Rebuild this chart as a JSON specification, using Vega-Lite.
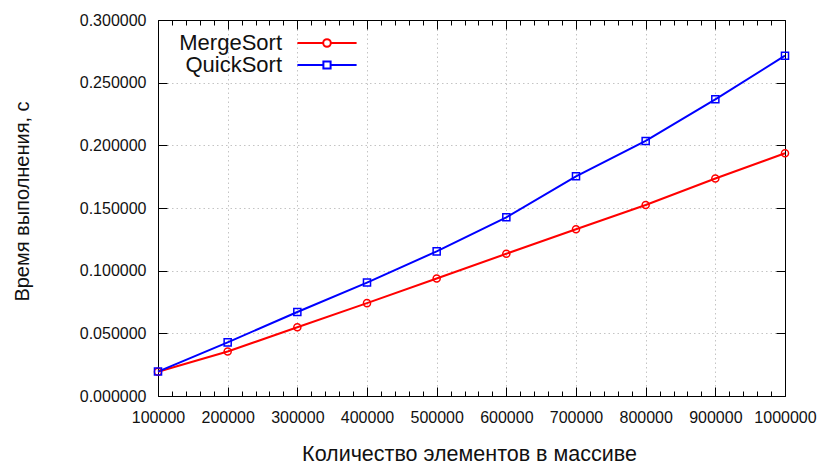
{
  "$schema": "https://vega.github.io/schema/vega-lite/v6.json",
  "width": 627,
  "height": 376,
  "autosize": {"type": "none"},
  "padding": {"left": 158, "top": 20, "right": 35, "bottom": 68},
  "config": {
    "font": "Liberation Sans",
    "view": {"stroke": null},
    "axis": {"domainColor": "#000000", "tickColor": "#000000", "labelColor": "#111111", "titleColor": "#111111", "labelFont": "Liberation Sans", "titleFont": "Liberation Sans", "titleFontWeight": "normal"}
  },
  "datasets": {
    "times": [
      {"n": 100000, "algo": "MergeSort", "t": 0.0193},
      {"n": 200000, "algo": "MergeSort", "t": 0.0355},
      {"n": 300000, "algo": "MergeSort", "t": 0.0548},
      {"n": 400000, "algo": "MergeSort", "t": 0.0741},
      {"n": 500000, "algo": "MergeSort", "t": 0.0938},
      {"n": 600000, "algo": "MergeSort", "t": 0.1135},
      {"n": 700000, "algo": "MergeSort", "t": 0.1330},
      {"n": 800000, "algo": "MergeSort", "t": 0.1524},
      {"n": 900000, "algo": "MergeSort", "t": 0.1735},
      {"n": 1000000, "algo": "MergeSort", "t": 0.1937},
      {"n": 100000, "algo": "QuickSort", "t": 0.0195},
      {"n": 200000, "algo": "QuickSort", "t": 0.0428},
      {"n": 300000, "algo": "QuickSort", "t": 0.0670},
      {"n": 400000, "algo": "QuickSort", "t": 0.0905},
      {"n": 500000, "algo": "QuickSort", "t": 0.1154},
      {"n": 600000, "algo": "QuickSort", "t": 0.1426},
      {"n": 700000, "algo": "QuickSort", "t": 0.1753},
      {"n": 800000, "algo": "QuickSort", "t": 0.2035},
      {"n": 900000, "algo": "QuickSort", "t": 0.2367},
      {"n": 1000000, "algo": "QuickSort", "t": 0.2715}
    ]
  },
  "data": {"name": "times"},
  "layer": [
    {
      "mark": {"type": "line", "strokeWidth": 2},
      "encoding": {
        "x": {"field": "n", "type": "quantitative", "scale": {"domain": [100000, 1000000], "nice": false, "zero": false},
          "axis": {"orient": "bottom", "values": [100000, 200000, 300000, 400000, 500000, 600000, 700000, 800000, 900000, 1000000], "format": "d", "ticks": false, "labelFontSize": 16, "labelPadding": 13, "labelFlush": false, "labelOverlap": false, "grid": true, "gridColor": "#c4c4c4", "gridDash": [1.5, 3], "gridWidth": 1, "domain": true, "title": "Количество элементов в массиве", "titleFontSize": 21.5, "titleX": 311, "titleY": 64, "titleBaseline": "alphabetic", "titleAlign": "center"}},
        "y": {"field": "t", "type": "quantitative", "scale": {"domain": [0, 0.3], "nice": false},
          "axis": {"orient": "left", "values": [0, 0.05, 0.1, 0.15, 0.2, 0.25, 0.3], "format": ".6f", "ticks": false, "labelFontSize": 16, "labelPadding": 12, "labelFlush": false, "labelOverlap": false, "grid": true, "gridColor": "#c4c4c4", "gridDash": [1.5, 3], "gridWidth": 1, "domain": true, "title": "Время выполнения, с", "titleFontSize": 20, "titleAngle": -90, "titleX": -136, "titleY": 181, "titleBaseline": "middle", "titleAlign": "center"}},
        "color": {"field": "algo", "type": "nominal", "scale": {"domain": ["MergeSort", "QuickSort"], "range": ["#ff0000", "#0000ff"]},
          "legend": {"orient": "none", "legendX": 158, "legendY": 12, "title": null, "padding": 0, "labelFontSize": 22, "labelFont": "Liberation Sans", "labelColor": "#111111", "labelAlign": "right", "labelOffset": -56, "symbolSize": 64, "rowPadding": 0, "symbolStrokeWidth": 2,
            "encode": {"symbols": {"update": {"fill": {"value": "transparent"}, "shape": {"signal": "datum.value === 'MergeSort' ? 'M-7.4,0L-0.95,0M0.95,0L7.4,0M0.95,0A0.95,0.95,0,1,1,-0.95,0A0.95,0.95,0,1,1,0.95,0Z' : 'M-7.4,0L-0.9,0M0.9,0L7.4,0M-0.9,-0.9L0.9,-0.9L0.9,0.9L-0.9,0.9Z'"}}}}}}
      }
    },
    {
      "transform": [{"filter": "datum.algo === 'MergeSort'"}],
      "mark": {"type": "point", "shape": "circle", "filled": false, "size": 50, "strokeWidth": 1.5, "opacity": 1},
      "encoding": {
        "x": {"field": "n", "type": "quantitative", "axis": {"orient": "top", "values": [100000, 200000, 300000, 400000, 500000, 600000, 700000, 800000, 900000, 1000000], "labels": false, "ticks": true, "tickSize": -9, "grid": false, "domain": true, "title": null}},
        "y": {"field": "t", "type": "quantitative", "axis": {"orient": "right", "values": [0, 0.05, 0.1, 0.15, 0.2, 0.25, 0.3], "labels": false, "ticks": true, "tickSize": -9, "grid": false, "domain": true, "title": null}},
        "color": {"field": "algo", "type": "nominal", "legend": null}
      }
    },
    {
      "transform": [{"filter": "datum.algo === 'QuickSort'"}],
      "mark": {"type": "point", "shape": "square", "filled": false, "size": 50, "strokeWidth": 1.5, "opacity": 1},
      "encoding": {
        "x": {"field": "n", "type": "quantitative", "axis": null},
        "y": {"field": "t", "type": "quantitative", "axis": null},
        "color": {"field": "algo", "type": "nominal", "legend": null}
      }
    },
    {
      "mark": {"type": "point", "opacity": 0},
      "encoding": {
        "x": {"field": "n", "type": "quantitative", "axis": {"orient": "bottom", "values": [100000, 200000, 300000, 400000, 500000, 600000, 700000, 800000, 900000, 1000000], "labels": false, "ticks": true, "tickSize": -9, "grid": false, "domain": false, "title": null}},
        "y": {"field": "t", "type": "quantitative", "axis": {"orient": "left", "values": [0, 0.05, 0.1, 0.15, 0.2, 0.25, 0.3], "labels": false, "ticks": true, "tickSize": -9, "grid": false, "domain": false, "title": null}}
      }
    },
    {
      "mark": {"type": "point", "opacity": 0},
      "encoding": {
        "x": {"field": "n", "type": "quantitative", "axis": {"orient": "bottom", "values": [120000, 140000, 160000, 180000, 220000, 240000, 260000, 280000, 320000, 340000, 360000, 380000, 420000, 440000, 460000, 480000, 520000, 540000, 560000, 580000, 620000, 640000, 660000, 680000, 720000, 740000, 760000, 780000, 820000, 840000, 860000, 880000, 920000, 940000, 960000, 980000], "labels": false, "ticks": true, "tickSize": -5, "grid": false, "domain": false, "title": null}},
        "y": {"field": "t", "type": "quantitative", "axis": null}
      }
    },
    {
      "mark": {"type": "point", "opacity": 0},
      "encoding": {
        "x": {"field": "n", "type": "quantitative", "axis": {"orient": "top", "values": [120000, 140000, 160000, 180000, 220000, 240000, 260000, 280000, 320000, 340000, 360000, 380000, 420000, 440000, 460000, 480000, 520000, 540000, 560000, 580000, 620000, 640000, 660000, 680000, 720000, 740000, 760000, 780000, 820000, 840000, 860000, 880000, 920000, 940000, 960000, 980000], "labels": false, "ticks": true, "tickSize": -5, "grid": false, "domain": false, "title": null}},
        "y": {"field": "t", "type": "quantitative", "axis": null}
      }
    }
  ],
  "resolve": {"axis": {"x": "independent", "y": "independent"}}
}
